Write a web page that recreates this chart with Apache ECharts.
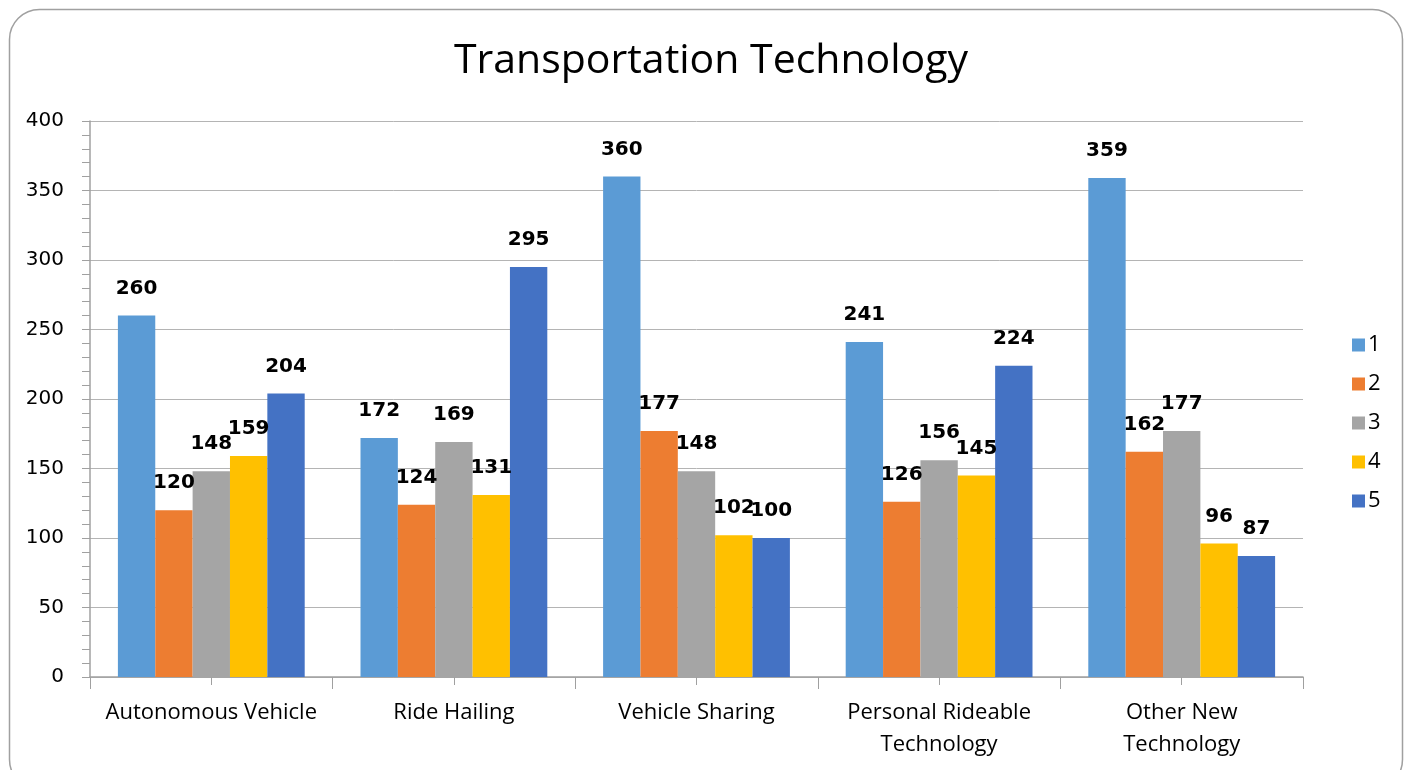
<!DOCTYPE html>
<html>
<head>
<meta charset="utf-8">
<script src="https://cdn.jsdelivr.net/npm/echarts@6/dist/echarts.min.js"></script>
<style>html,body{margin:0;padding:0;background:#fff;}#c{width:1404px;height:770px;}</style>
</head>
<body>
<div id="c"></div>
<script>
const categories = ["Autonomous Vehicle", "Ride Hailing", "Vehicle Sharing", "Personal Rideable\nTechnology", "Other New\nTechnology"];
const seriesNames = ["1", "2", "3", "4", "5"];
const s1 = [260, 172, 360, 241, 359];
const s2 = [120, 124, 177, 126, 162];
const s3 = [148, 169, 148, 156, 177];
const s4 = [159, 131, 102, 145, 96];
const s5 = [204, 295, 100, 224, 87];
const colors = ["#5B9BD5", "#ED7D31", "#A5A5A5", "#FFC000", "#4472C4"];
const allSeries = [s1, s2, s3, s4, s5];

const chart = echarts.init(document.getElementById('c'));
chart.setOption({
  animation: false,
  color: colors,
  title: {
    text: "Transportation Technology",
    left: 706, top: 36, textAlign: 'center',
    textStyle: {fontFamily: "Open Sans", fontSize: 41, fontWeight: 'normal', color: '#000'}
  },
  graphic: [{
    type: 'rect', left: 7, top: 7, silent: true, z: -1,
    shape: {width: 1393, height: 780, r: 30},
    style: {fill: 'none', stroke: '#A0A0A0', lineWidth: 1.5}
  }],
  legend: {
    orient: 'vertical', left: 1347, top: 329,
    itemWidth: 13, itemHeight: 13, itemGap: 17,
    icon: 'rect',
    textStyle: {fontFamily: "Open Sans", fontSize: 22, color: '#000', padding: [0,0,0,-2]},
    data: seriesNames
  },
  grid: {left: 90, right: 101, top: 121, bottom: 93},
  xAxis: [{
    type: 'category', data: categories,
    axisLine: {lineStyle: {color: '#A0A0A0', width: 1.5}},
    axisTick: {show: true, length: 12, inside: false, lineStyle: {color: '#A0A0A0'}},
    axisLabel: {fontFamily: "Open Sans", fontSize: 22, color: '#000', margin: 20, lineHeight: 32, interval: 0}
  }, {
    type: 'category', data: categories, position: 'bottom',
    axisLine: {show: false},
    axisTick: {show: true, alignWithLabel: true, length: 8, lineStyle: {color: '#A0A0A0'}},
    axisLabel: {show: false}
  }],
  yAxis: {
    type: 'value', min: 0, max: 400, interval: 50,
    axisLine: {show: true, lineStyle: {color: '#A0A0A0', width: 1.5}},
    axisTick: {show: true, length: 8, lineStyle: {color: '#A0A0A0'}},
    minorTick: {show: true, splitNumber: 5, length: 8, lineStyle: {color: '#A0A0A0'}},
    splitLine: {lineStyle: {color: '#B4B4B4', width: 1}},
    axisLabel: {fontFamily: "DejaVu Sans", fontSize: 20, color: '#000', margin: 26}
  },
  series: allSeries.map((d, i) => ({
    name: seriesNames[i], type: 'bar', data: d,
    barGap: '0%', barCategoryGap: '23%',
    itemStyle: {color: colors[i]},
    label: {show: true, position: 'top', distance: 17, fontFamily: "DejaVu Sans", fontWeight: 'bold', fontSize: 20, color: '#000'}
  }))
});
</script>
</body>
</html>
